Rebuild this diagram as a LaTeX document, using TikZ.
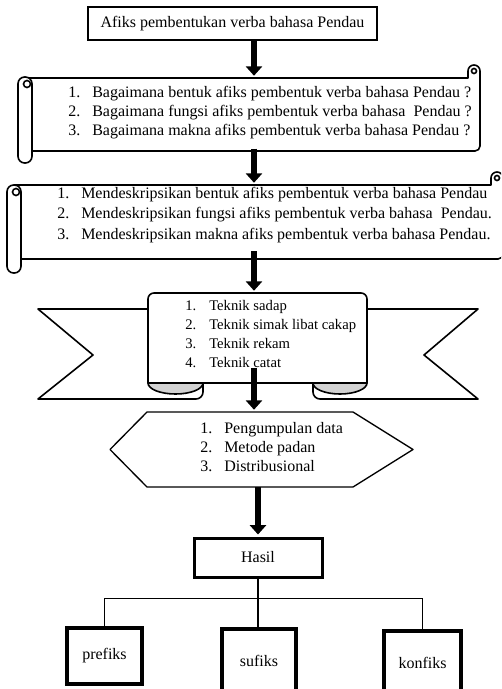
\documentclass[tikz,border=0pt]{standalone}
\usepackage{fontspec}
\setmainfont{Liberation Serif}
\usetikzlibrary{arrows.meta}

\newcommand{\numitem}[2]{\makebox[18pt][l]{#1}#2}

\begin{document}
\begin{tikzpicture}[
    x=0.75pt, y=-0.75pt,
    every node/.style={font=\fontsize{12}{14.25}\selectfont},
    titlebox/.style={draw, line width=1.5pt, minimum width=216.75pt, minimum height=24.75pt, inner sep=0pt},
    frame/.style={inner sep=0pt, minimum width=#1},
    listtext/.style={anchor=west, align=left, inner sep=0pt},
    outline/.style={draw, line width=1.2pt, fill=white, line join=round},
    fold/.style={draw, line width=1.2pt, fill=gray!35},
    bigarrow/.style={-{Triangle[width=12pt,length=7pt]}, line width=4pt, shorten >=1.5pt},
    resultbox/.style={draw, line width=2.25pt, minimum width=96pt, minimum height=29.25pt, inner sep=0pt},
    leafbox/.style={draw, line width=3pt, inner sep=0pt},
    link/.style={line width=1pt}
]
\useasboundingbox (0,0) rectangle (501,689);
\clip (0,0) rectangle (501,689);

% Scroll 1 (rumusan masalah)
\path[outline] (25,78) -- (468,78) -- (468,71) arc[start angle=180, end angle=360, radius=6]
    -- (480,146) arc[start angle=0, end angle=90, radius=5] -- (25,151);
\draw[outline, rounded corners=5pt] (18,77) rectangle (32,163);
\draw[line width=1.2pt] (27,84) circle[radius=3.5];
\draw[line width=1.2pt] (474,71) circle[radius=2.5];

% Scroll 2 (tujuan)
\path[outline] (14,185) -- (491,185) -- (491,178) arc[start angle=180, end angle=360, radius=6]
    -- (503,254) arc[start angle=0, end angle=90, radius=5] -- (14,259);
\draw[outline, rounded corners=5pt] (7,185) rectangle (21,273);
\draw[line width=1.2pt] (16,192) circle[radius=3.5];
\draw[line width=1.2pt] (497,178) circle[radius=2.5];

% Ribbon (teknik)
\path[outline] (160,309) -- (38,309) -- (93,355) -- (38,399) -- (196,399)
    arc[start angle=90, end angle=0, radius=7] -- (203,383);
\path[outline] (355,309) -- (478,309) -- (424,355) -- (478,399) -- (320,399)
    arc[start angle=90, end angle=180, radius=7] -- (313,383);
\path[fold] (148,383) arc[start angle=180, end angle=0, x radius=27.5, y radius=11];
\path[fold] (313,383) arc[start angle=180, end angle=0, x radius=27, y radius=11];
\path[outline] (148,383) -- (148,299) arc[start angle=180, end angle=270, radius=6]
    -- (361,293) arc[start angle=270, end angle=360, radius=6] -- (367,383) -- cycle;

% Hexagon (metode)
\path[outline, line width=1pt] (147,412) -- (353,412) -- (413,449.5) -- (353,487)
    -- (147,487) -- (110,449.5) -- cycle;

% Nodes
\node[titlebox] (title) at (232.5,23.5) {Afiks pembentukan verba bahasa Pendau};
\node[frame=336pt, minimum height=54.75pt] (q1) at (254,114.5) {};
\node[frame=361.5pt, minimum height=55.5pt] (q2) at (254,222) {};
\node[frame=164.25pt, minimum height=67.5pt] (rib) at (254,338) {};
\node[frame=227.25pt, minimum height=56.25pt] (hex) at (254,449.5) {};

\node[listtext] (q1txt) at (68,112.5) {%
    \numitem{1.}{Bagaimana bentuk afiks pembentuk verba bahasa Pendau ?}\\
    \numitem{2.}{Bagaimana fungsi afiks pembentuk verba bahasa \ Pendau ?}\\
    \numitem{3.}{Bagaimana makna afiks pembentuk verba bahasa Pendau ?}};
\node[listtext] (q2txt) at (57,215) {%
    \numitem{1.}{Mendeskripsikan bentuk afiks pembentuk verba bahasa Pendau}\\[1pt]
    \numitem{2.}{Mendeskripsikan fungsi afiks pembentuk verba bahasa \ Pendau.}\\[1pt]
    \numitem{3.}{Mendeskripsikan makna afiks pembentuk verba bahasa Pendau.}};
\node[listtext, font=\fontsize{11}{14.25}\selectfont] (ribtxt) at (185,334.5) {%
    \numitem{1.}{Teknik sadap}\\
    \numitem{2.}{Teknik simak libat cakap}\\
    \numitem{3.}{Teknik rekam}\\
    \numitem{4.}{Teknik catat}};
\node[listtext] (hextxt) at (200,447) {%
    \numitem{1.}{Pengumpulan data}\\
    \numitem{2.}{Metode padan}\\
    \numitem{3.}{Distribusional}};

\node[resultbox] (hasil) at (258,557.5) {Hasil};
\node[leafbox, minimum width=56.25pt, minimum height=42pt] (pre) at (104.5,656) {prefiks};
\node[leafbox, minimum width=55.5pt, minimum height=48pt] (suf) at (259,661) {sufiks};
\node[leafbox, minimum width=57.75pt, minimum height=48pt] (konf) at (422.5,663) {konfiks};

% Arrows
\draw[bigarrow] (q1.north |- title.south) -- (q1.north);
\draw[bigarrow] ([yshift=2pt]q1.south) -- (q2.north);
\draw[bigarrow] ([yshift=6pt]q2.south) -- (rib.north);
\draw[bigarrow] ([yshift=11.25pt]rib.south) -- (hex.north);
\draw[bigarrow] (hasil.north |- hex.south) -- (hasil.north);

\draw[link] (hasil.south) -- ++(0,20) -| (pre.north);
\draw[link] (hasil.south) -- ++(0,20) -| (konf.north);
\draw[link] (hasil.south) -- (hasil.south |- suf.north);

\end{tikzpicture}
\end{document}
